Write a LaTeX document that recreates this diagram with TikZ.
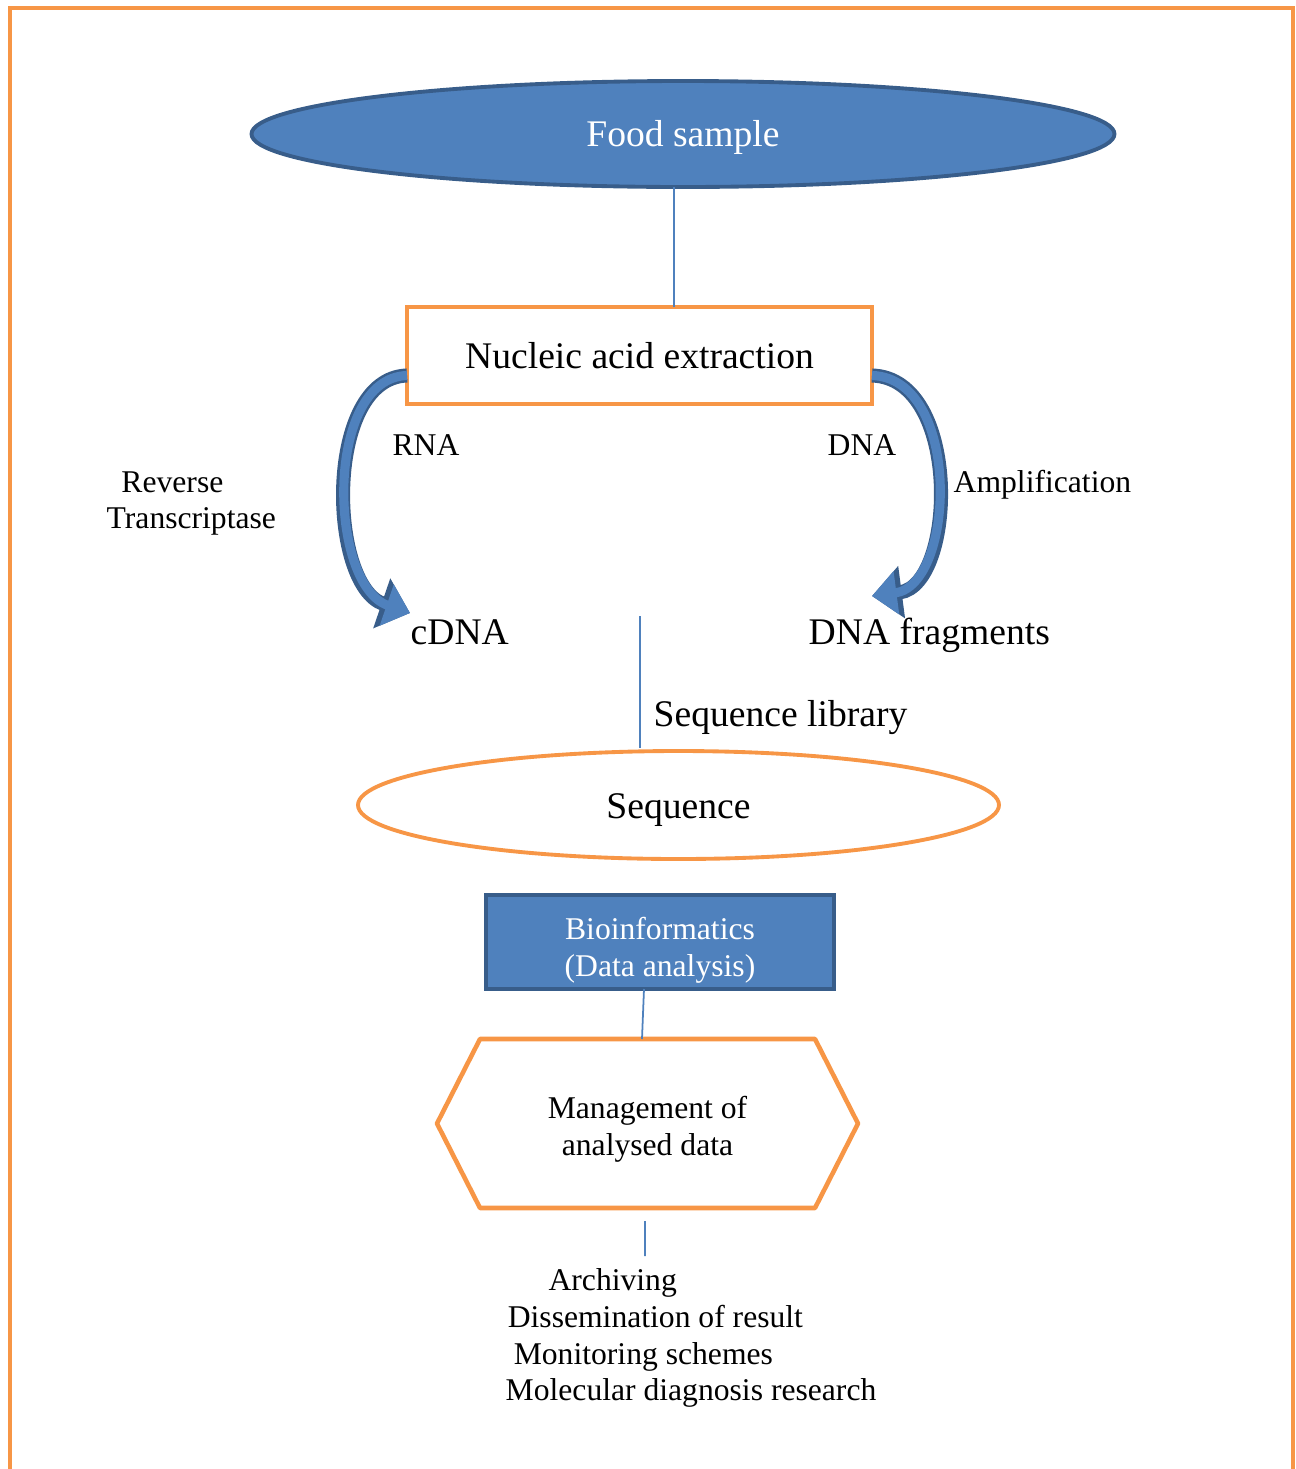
\documentclass[tikz,border=0pt]{standalone}
\usepackage{fontspec}
\setmainfont{Liberation Serif}
\usetikzlibrary{arrows.meta,calc,shapes.geometric}
\definecolor{frameorange}{HTML}{F79646}
\definecolor{officeblue}{HTML}{4F81BD}
\definecolor{darkblue}{HTML}{385D8A}
\tikzset{
  frame/.style={draw=frameorange, line width=1.2pt},
  bluebox/.style={draw=darkblue, fill=officeblue, line width=1.1pt, inner sep=0pt, outer sep=0pt},
  orangebox/.style={draw=frameorange, fill=white, line width=1.1pt, inner sep=0pt, outer sep=0pt},
  link/.style={draw=officeblue, line width=0.5pt},
  curvearrow/.style={draw=officeblue, line width=2.6pt, -{Triangle[length=7pt,width=12pt]},
    preaction={draw=darkblue, line width=4pt, -{Triangle[length=8.5pt,width=14.5pt]}}},
  big/.style={font=\fontsize{10.7}{12.8}\selectfont},
  small/.style={font=\fontsize{9}{10.5}\selectfont},
  tag/.style={small, inner sep=0pt}
}
\begin{document}
\begin{tikzpicture}
  \useasboundingbox (0,0) rectangle (12.96,-14.69);
  % outer frame, open at the bottom
  \draw[frame] (0.10,-14.80) -- (0.10,-0.08) -- (12.93,-0.08) -- (12.93,-14.80);

  \node[bluebox, ellipse, minimum width=8.63cm, minimum height=1.06cm] (food) at (6.83,-1.34) {};
  \node[big, text=white, inner sep=0pt] (foodtext) at ([yshift=-0.03cm]food.center) {Food sample};
  \node[orangebox, rectangle, big, minimum width=4.65cm, minimum height=0.97cm] (nucleic) at (6.395,-3.555) {Nucleic acid extraction};
  \draw[link] ([xshift=-0.09cm]food.south) -- ([xshift=-0.09cm]food.south |- nucleic.north);

  % RNA / DNA branches
  \coordinate (cdnatip) at (4.10,-6.13);
  \coordinate (fragtip) at (8.72,-5.96);
  \draw[curvearrow] ([yshift=-0.2cm]nucleic.west) .. controls (3.24,-3.78) and (3.28,-5.85) .. (cdnatip);
  \draw[curvearrow] ([yshift=-0.2cm]nucleic.east) .. controls (9.62,-3.78) and (9.56,-5.85) .. (fragtip);
  \node[tag] (rna) at (4.26,-4.45) {RNA};
  \node[tag] (dna) at (8.62,-4.45) {DNA};
  \node[tag, anchor=west, align=left] (revtrans) at (1.06,-5.035) {\hspace*{4.2pt}Reverse\\Transcriptase};
  \node[tag, anchor=west] (amplif) at (9.53,-4.85) {Amplification};
  \node[big, inner sep=0pt, anchor=base west] (cdna) at (4.10,-6.44) {cDNA};
  \node[big, inner sep=0pt, anchor=base west] (dnafrag) at (8.08,-6.44) {DNA fragments};

  % library and sequencing
  \node[orangebox, ellipse, minimum width=6.41cm, minimum height=1.08cm] (seq) at (6.785,-8.05) {};
  \node[big, inner sep=0pt] (seqtext) at ([yshift=-0.05cm]seq.center) {Sequence};
  \coordinate (libtop) at (6.40,-6.16);
  \draw[link] (libtop) -- ([yshift=0.03cm]libtop |- seq.north);
  \node[big, inner sep=0pt, anchor=west] (seqlib) at (6.53,-7.18) {Sequence library};

  \node[bluebox, rectangle, minimum width=3.48cm, minimum height=0.94cm] (bio) at (6.60,-9.42) {};
  \node[small, text=white, align=center, inner sep=0pt] (biotext) at ([yshift=-0.08cm]bio.center) {Bioinformatics\\(Data analysis)};

  % hexagon drawn round a plain node
  \node[inner sep=0pt, outer sep=0pt, minimum width=4.21cm, minimum height=1.69cm] (mgmt) at (6.475,-11.235) {};
  \draw[frameorange, line width=1.3pt, line join=round]
    ($(mgmt.north west)+(0.43,0)$) -- ($(mgmt.north east)+(-0.43,0)$) -- (mgmt.east)
    -- ($(mgmt.south east)+(-0.43,0)$) -- ($(mgmt.south west)+(0.43,0)$) -- (mgmt.west) -- cycle;
  \node[small, align=center, inner sep=0pt] (mgmttext) at ([yshift=-0.06cm]mgmt.center) {Management of\\analysed data};
  \draw[link] ([xshift=-0.16cm]bio.south) -- ([xshift=-0.055cm]mgmt.north);

  \node[small, inner sep=0pt, anchor=west, align=left] (uses) at (5.05,-13.38)
    {\hspace*{12.2pt}Archiving\\\hspace*{0.6pt}Dissemination of result\\\hspace*{2.3pt}Monitoring schemes\\Molecular diagnosis research};
  \coordinate (usestop) at (6.45,-12.56);
  \draw[link] ([xshift=-0.025cm,yshift=-0.13cm]mgmt.south) -- (usestop);
\end{tikzpicture}
\end{document}
